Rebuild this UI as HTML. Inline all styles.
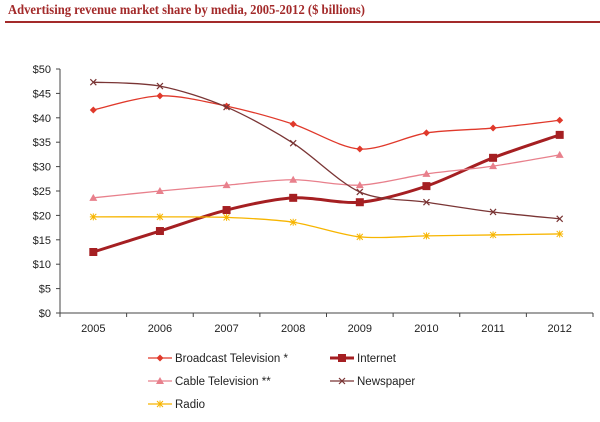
<!DOCTYPE html>
<html><head><meta charset="utf-8"><style>
body{margin:0;background:#fff;width:600px;height:417px;overflow:hidden}
svg text{font-family:"Liberation Sans",sans-serif}
</style></head><body>
<svg width="600" height="417">
<text x="8" y="14" font-weight="bold" font-size="13.5" fill="#a32a2a" textLength="357" lengthAdjust="spacingAndGlyphs" style="font-family:'Liberation Serif',serif">Advertising revenue market share by media, 2005-2012 ($ billions)</text>
<rect x="5" y="21" width="595" height="2" fill="#a32a2a"/>
<g id="axes"></g><g id="series"></g><g id="legend"></g>
</svg>
<script>
const years=["2005","2006","2007","2008","2009","2010","2011","2012"];
const yTicks=[0,5,10,15,20,25,30,35,40,45,50];
const broadcast=[41.6,44.5,42.4,38.7,33.6,36.9,37.9,39.5];
const internet=[12.5,16.8,21.1,23.6,22.7,26.0,31.8,36.5];
const cable=[23.6,25.0,26.2,27.3,26.2,28.5,30.1,32.4];
const newspaper=[47.3,46.5,42.2,34.8,24.8,22.7,20.7,19.3];
const radio=[19.7,19.7,19.6,18.6,15.6,15.8,16.0,16.2];
const NS="http://www.w3.org/2000/svg";
const L=60,R=593,T=69,B=313;
const step=(R-L)/years.length;
const xs=i=>L+step*(i+0.5);
const ys=v=>B-(v/50)*(B-T);
function mk(t,a,p){const e=document.createElementNS(NS,t);for(const k in a)e.setAttribute(k,a[k]);p.appendChild(e);return e;}
const ax=document.getElementById('axes');
const yl=mk('line',{x1:L,y1:T,x2:L,y2:B,stroke:'#444'},ax);


const xl=mk('line',{x1:L,y1:B,x2:R,y2:B,stroke:'#444'},ax);


yTicks.forEach(v=>{mk('line',{x1:L-4,y1:ys(v),x2:L,y2:ys(v),stroke:'#444'},ax);
const t=mk('text',{x:L-9,y:ys(v)+4,'text-anchor':'end','font-size':11,fill:'#222'},ax);t.textContent='$'+v;

});
for(let i=0;i<=years.length;i++)mk('line',{x1:L+step*i,y1:B,x2:L+step*i,y2:B+4,stroke:'#444'},ax);
years.forEach((y,i)=>{const t=mk('text',{x:xs(i),y:B+19,'text-anchor':'middle','font-size':11,fill:'#222'},ax);t.textContent=y;

});
function smooth(p){let d='M'+p[0][0]+','+p[0][1];for(let i=0;i<p.length-1;i++){const p0=p[i-1]||p[i],p1=p[i],p2=p[i+1],p3=p[i+2]||p2;const k=0.15;
d+=` C${p1[0]+(p2[0]-p0[0])*k},${p1[1]+(p2[1]-p0[1])*k} ${p2[0]-(p3[0]-p1[0])*k},${p2[1]-(p3[1]-p1[1])*k} ${p2[0]},${p2[1]}`;}return d;}
function marker(g,type,x,y,c){
if(type==='diamond')mk('path',{d:`M${x},${y-3.5}L${x+3.5},${y}L${x},${y+3.5}L${x-3.5},${y}Z`,fill:c},g);
else if(type==='square')mk('rect',{x:x-4,y:y-4,width:8,height:8,fill:c},g);
else if(type==='tri')mk('path',{d:`M${x},${y-4}L${x+4},${y+3}L${x-4},${y+3}Z`,fill:c},g);
else if(type==='x')mk('path',{d:`M${x-3},${y-3}L${x+3},${y+3}M${x-3},${y+3}L${x+3},${y-3}`,stroke:c,'stroke-width':1.2},g);
else mk('path',{d:`M${x-3.5},${y}L${x+3.5},${y}M${x},${y-3.5}L${x},${y+3.5}M${x-3},${y-3}L${x+3},${y+3}M${x-3},${y+3}L${x+3},${y-3}`,stroke:c,'stroke-width':1},g);}
const series=[
{name:'Broadcast Television *',vals:broadcast,c:'#e0392b',w:1.3,m:'diamond',id:'broadcast-television'},
{name:'Internet',vals:internet,c:'#a51f22',w:3,m:'square',id:'internet'},
{name:'Cable Television **',vals:cable,c:'#e8808c',w:1.3,m:'tri',id:'cable-television'},
{name:'Newspaper',vals:newspaper,c:'#7a3535',w:1.3,m:'x',id:'newspaper'},
{name:'Radio',vals:radio,c:'#f7b500',w:1.3,m:'star',id:'radio'}];
const sg=document.getElementById('series');
series.forEach(s=>{const g=mk('g',{},sg);


const p=s.vals.map((v,i)=>[xs(i),ys(v)]);
mk('path',{d:smooth(p),fill:'none',stroke:s.c,'stroke-width':s.w},g);
p.forEach(q=>marker(g,s.m,q[0],q[1],s.c));});
const lg=document.getElementById('legend');
const pos=[[148,358],[330,358],[148,381],[330,381],[148,404]];
series.forEach((s,i)=>{const g=mk('g',{},lg);


const [x,y]=pos[i];
mk('line',{x1:x,y1:y,x2:x+24,y2:y,stroke:s.c,'stroke-width':s.w},g);
marker(g,s.m,x+12,y,s.c);
const t=mk('text',{x:x+27,y:y+4,'font-size':11.5,fill:'#222'},g);t.textContent=s.name;});
</script>
</body></html>
